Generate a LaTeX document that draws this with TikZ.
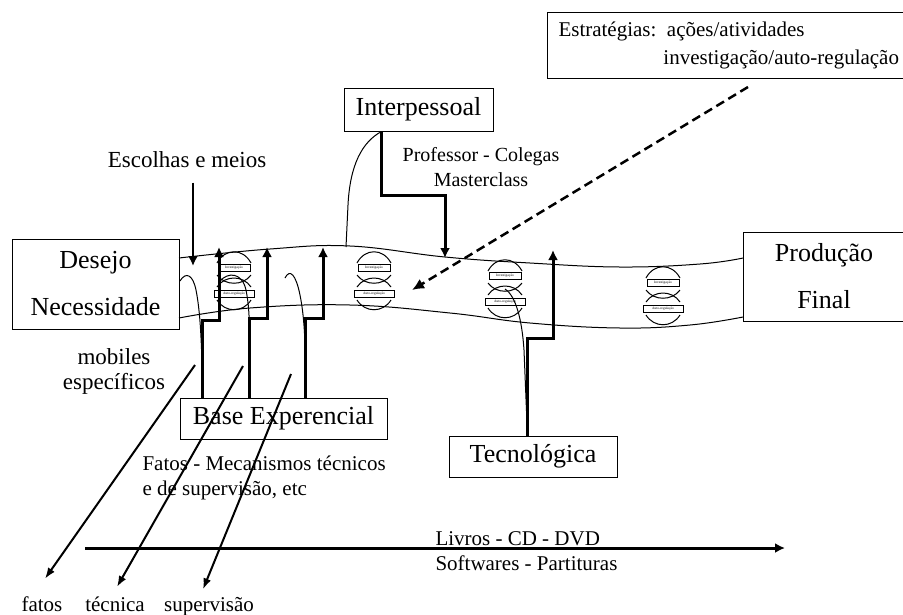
\documentclass[tikz,border=0pt]{standalone}
\usepackage{fontspec}
\setmainfont{Liberation Serif}
\usetikzlibrary{calc,arrows.meta}

\begin{document}
\begin{tikzpicture}[x=1pt,y=-1pt,line width=1pt,>={Latex[length=10pt,width=10pt]},
  caixa/.style={draw,inner sep=0pt,align=center,font=\fontsize{26}{47}\selectfont},
  texto/.style={inner sep=0pt,font=\fontsize{21}{25}\selectfont},
  grossa/.style={->,line width=3pt},
  diag/.style={->,line width=2pt,>={Latex[length=11pt,width=8pt]}},
  mini/.style={draw,line width=0.6pt,inner sep=0pt,minimum height=7pt,font=\fontsize{3.5}{4}\selectfont}]
  \useasboundingbox (0,0) rectangle (903,614);
  % caixas
  \node[caixa,minimum width=167pt,minimum height=90pt] (desejo) at (95.5,284) {Desejo\\Necessidade};
  \node[caixa,minimum width=162pt,minimum height=89pt] (producao) at (824,276.5) {Produção\\Final};
  \node[caixa,minimum width=149pt,minimum height=43pt] (interp) at (418.5,109.5) {Interpessoal};
  \node[caixa,minimum width=207pt,minimum height=41pt] (base) at (283.5,418.5) {Base Experencial};
  \node[caixa,minimum width=168pt,minimum height=41pt] (tecno) at (533,456.5) {Tecnológica};
  \node[draw,anchor=north west,minimum height=66pt,text width=350pt,inner xsep=11pt,inner ysep=0pt,
    align=left,font=\fontsize{21}{28}\selectfont] (estrat) at (547,12)
    {Estratégias: ações/atividades\\\phantom{Estratégias:\ }investigação/auto-regulação};
  % textos
  \node[font=\fontsize{23}{26}\selectfont,inner sep=0pt] (escolhas) at (187,160) {Escolhas e meios};
  \node[texto,align=center,font=\fontsize{20}{25}\selectfont] (prof) at (481,167) {Professor - Colegas\\Masterclass};
  \node[texto,align=center,font=\fontsize{23}{25}\selectfont] (mobiles) at (114,371) {mobiles\\específicos};
  \node[texto,align=left,anchor=west] (fatosmec) at (142,478) {Fatos - Mecanismos técnicos\\e de supervisão, etc};
  \node[texto,align=left,anchor=west] (livros) at (435,551) {Livros - CD - DVD\\Softwares - Partituras};
  \node[texto,anchor=base] (fatos) at (42,611) {fatos};
  \node[texto,anchor=base] (tecnica) at (115,611) {técnica};
  \node[texto,anchor=base] (superv) at (209,611) {supervisão};
  % faixa
  \draw plot[smooth,tension=0.7] coordinates {(179,258) (270,249) (350,246) (445,257) (530,263) (620,267) (700,264) (743,258)};
  \draw plot[smooth,tension=0.7] coordinates {(179,318) (250,308) (350,305) (450,313) (530,323) (620,328) (690,325) (743,317)};
  % ciclos investigacao / auto-regulacao
  \foreach \cx/\cy [count=\i] in {234/268,374/268,505/276,663/283}{
    \begin{scope}[shift={(\cx,\cy)}]
      \draw (-17,-5) .. controls (-9,-20) and (9,-20) .. (17,-5);
      \node[mini,minimum width=32pt] (inv\i) at (0,0) {Investigação};
      \draw (-17,7) .. controls (-9,18) and (9,18) .. (17,7);
      \draw (-17,19) .. controls (-9,7) and (9,7) .. (17,19);
      \node[mini,minimum width=40pt] (aut\i) at (0,26) {Auto-regulação};
      \draw (-17,32) .. controls (-9,45) and (9,45) .. (17,32);
    \end{scope}
  }
  % base experencial
  \coordinate (b1) at ($(base.north west)+(23,0)$);
  \coordinate (b2) at ($(base.north west)+(70,0)$);
  \coordinate (b3) at ($(base.north west)+(126,0)$);
  \draw[grossa] (b1) |- (219,320) -- (219,247);
  \draw[grossa] (b2) |- (267,318) -- (267,247);
  \draw[grossa] (b3) |- (323,318) -- (323,247);
  \draw (180,281) .. controls (186,271) and (193,275) .. (196,290) .. controls (200,310) and (202,340) .. (b1);
  \draw (220,281) .. controls (228,272) and (242,272) .. (246,290) .. controls (250,310) and (250,330) .. (b2);
  \draw (285,278) .. controls (290,268) and (296,275) .. (300,295) .. controls (304,315) and (306,340) .. (b3);
  % interpessoal
  \coordinate (i1) at ($(interp.south west)+(38,0)$);
  \draw[grossa] (i1) |- (445,195) -- (445,258);
  \draw (i1) .. controls (362,142) and (350,165) .. (348,205) -- (346,247);
  % tecnologica
  \coordinate (t1) at ($(tecno.north west)+(79,0)$);
  \draw[grossa] (t1) |- (553,338) -- (553,250);
  \draw (505,289) .. controls (516,296) and (522,320) .. (524,350) -- (t1);
  % escolhas e meios
  \coordinate (e1) at (193,266);
  \draw[grossa,line width=2.2pt] ([shift={(6,14)}]escolhas.south) -- (e1);
  % estrategias
  \coordinate (s1) at (748,87);
  \coordinate (s2) at (412,290);
  \draw[->,line width=2.5pt,dash pattern=on 9pt off 5pt,>={Latex[length=12pt,width=11pt]}] (s1) -- (s2);
  % mobiles especificos
  \draw[diag] (195,365) -- ([shift={(3,-17)}]fatos.north);
  \draw[diag] (243,366) -- ([shift={(2,-9)}]tecnica.north);
  \draw[diag] (291,374) -- ([shift={(-6,-7)}]superv.north);
  % linha do tempo
  \coordinate (l1) at (85,548);
  \coordinate (l2) at (785,548);
  \draw[grossa] (l1) -- (l2);
\end{tikzpicture}
\end{document}
